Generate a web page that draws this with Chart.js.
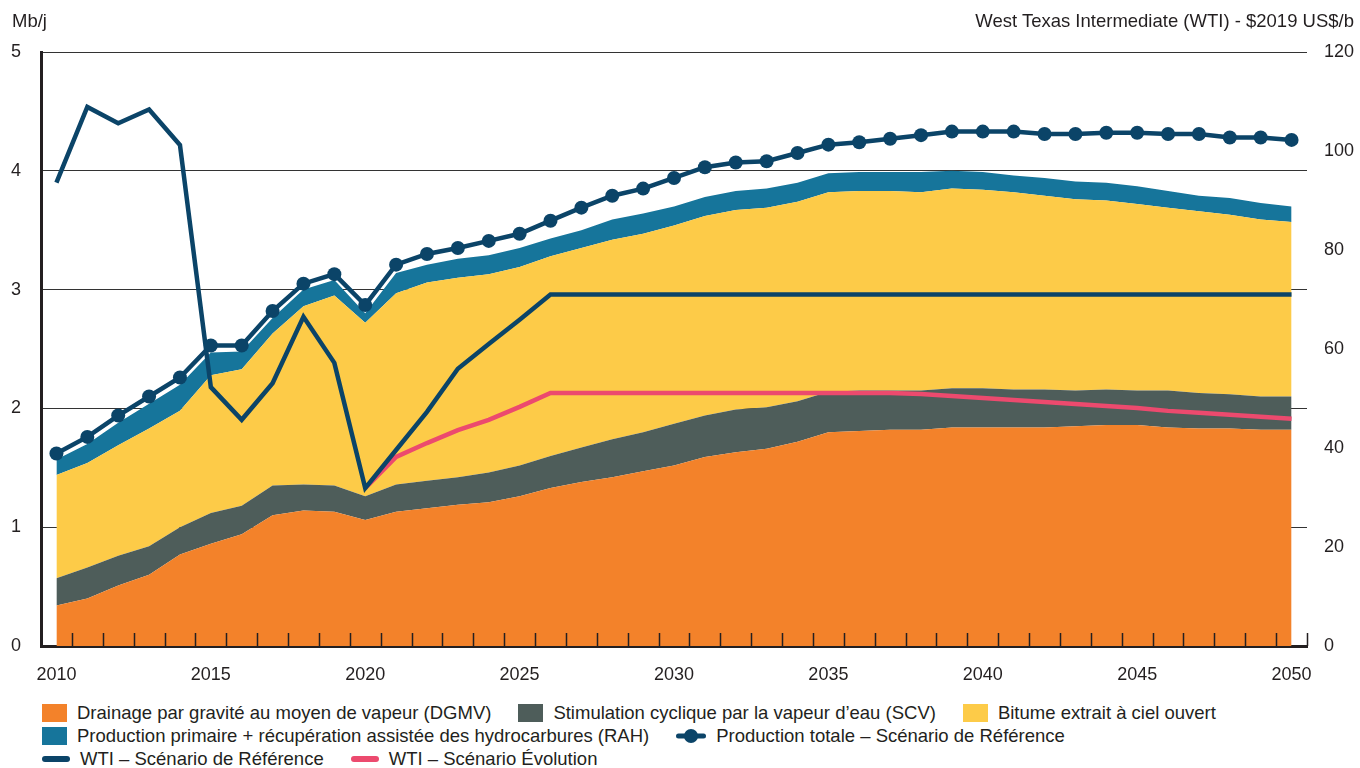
<!DOCTYPE html>
<html lang="fr">
<head>
<meta charset="utf-8">
<title>Production de bitume</title>
<script src="https://cdn.jsdelivr.net/npm/chart.js@4.4.1/dist/chart.umd.min.js"></script>
<style>
  body { margin: 0; background: #fff; font-family: "Liberation Sans", Arial, sans-serif; color: #231f20; }
  #wrap { position: relative; width: 1360px; height: 768px; overflow: hidden; }
  #chartBox { position: absolute; left: 0; top: 0; width: 1360px; height: 700px; }
  .axis-title { position: absolute; top: 10px; font-size: 18.5px; line-height: 22px; white-space: nowrap; }
  #titleLeft { left: 12px; }
  #titleRight { right: 6px; }
  #legend { position: absolute; left: 42px; top: 701px; font-size: 18.5px; }
  .lg-row { display: flex; height: 23px; align-items: center; }
  .lg-item { display: flex; align-items: center; margin-right: 27px; white-space: nowrap; }
  .sw { margin-right: 10px; flex: none; }
  .sw-box { width: 25px; height: 18px; }
  .sw-line { width: 28px; height: 6px; border-radius: 3px; }
</style>
</head>
<body>
<div id="wrap">
  <div id="chartBox"><canvas id="chart"></canvas></div>
  <div class="axis-title" id="titleLeft">Mb/j</div>
  <div class="axis-title" id="titleRight">West Texas Intermediate (WTI) - $2019 US$/b</div>
  <div id="legend"></div>
</div>
<script>
// ================================
// DATA
// ================================
const years = [
  '2010', '2011', '2012', '2013', '2014', '2015', '2016', '2017', '2018', '2019',
  '2020', '2021', '2022', '2023', '2024', '2025', '2026', '2027', '2028', '2029',
  '2030', '2031', '2032', '2033', '2034', '2035', '2036', '2037', '2038', '2039',
  '2040', '2041', '2042', '2043', '2044', '2045', '2046', '2047', '2048', '2049',
  '2050'
];

// Mb/j, stacked
const dgmv = [
  0.34, 0.40, 0.51, 0.60, 0.77, 0.86, 0.94, 1.10, 1.14, 1.13,
  1.06, 1.13, 1.16, 1.19, 1.21, 1.26, 1.33, 1.38, 1.42, 1.47,
  1.52, 1.59, 1.63, 1.66, 1.72, 1.80, 1.81, 1.82, 1.82, 1.84,
  1.84, 1.84, 1.84, 1.85, 1.86, 1.86, 1.84, 1.83, 1.83, 1.82, 1.82
];
const scv = [
  0.23, 0.26, 0.25, 0.24, 0.23, 0.26, 0.24, 0.25, 0.22, 0.22,
  0.20, 0.23, 0.23, 0.23, 0.25, 0.26, 0.27, 0.29, 0.32, 0.33,
  0.35, 0.35, 0.36, 0.35, 0.34, 0.34, 0.34, 0.33, 0.33, 0.33,
  0.33, 0.32, 0.32, 0.30, 0.30, 0.29, 0.31, 0.30, 0.29, 0.28, 0.28
];
const bitume = [
  0.87, 0.88, 0.93, 0.99, 0.98, 1.16, 1.15, 1.28, 1.50, 1.60,
  1.46, 1.61, 1.67, 1.68, 1.67, 1.67, 1.68, 1.68, 1.68, 1.67,
  1.67, 1.68, 1.68, 1.68, 1.68, 1.68, 1.68, 1.68, 1.67, 1.68,
  1.67, 1.66, 1.63, 1.61, 1.59, 1.57, 1.54, 1.53, 1.51, 1.49, 1.47
];
const rah = [
  0.13, 0.16, 0.19, 0.21, 0.22, 0.19, 0.15, 0.13, 0.14, 0.13,
  0.08, 0.17, 0.15, 0.16, 0.16, 0.16, 0.15, 0.15, 0.17, 0.17,
  0.16, 0.16, 0.16, 0.16, 0.16, 0.16, 0.16, 0.16, 0.17, 0.15,
  0.15, 0.14, 0.15, 0.15, 0.15, 0.15, 0.14, 0.13, 0.14, 0.14, 0.13
];
const totalRef = [
  1.62, 1.76, 1.94, 2.10, 2.26, 2.53, 2.53, 2.82, 3.05, 3.13,
  2.87, 3.21, 3.30, 3.35, 3.41, 3.47, 3.58, 3.69, 3.79, 3.85,
  3.94, 4.03, 4.07, 4.08, 4.15, 4.22, 4.24, 4.27, 4.30, 4.33,
  4.33, 4.33, 4.31, 4.31, 4.32, 4.32, 4.31, 4.31, 4.28, 4.28, 4.26
];

// $2019 US$/b
const wtiRef = [
  93.6, 108.9, 105.6, 108.4, 101.2, 52.3, 45.7, 53.1, 66.5, 57.2,
  31.9, 39.6, 47.3, 56.0, 61.0, 65.9, 71.0, 71.0, 71.0, 71.0,
  71.0, 71.0, 71.0, 71.0, 71.0, 71.0, 71.0, 71.0, 71.0, 71.0,
  71.0, 71.0, 71.0, 71.0, 71.0, 71.0, 71.0, 71.0, 71.0, 71.0, 71.0
];
const wtiEvo = [
  null, null, null, null, null, null, null, null, null, null,
  31.9, 38.2, 41.0, 43.6, 45.7, 48.3, 51.1, 51.1, 51.1, 51.1,
  51.1, 51.1, 51.1, 51.1, 51.1, 51.1, 51.1, 51.1, 50.9, 50.5,
  50.1, 49.7, 49.3, 48.9, 48.5, 48.1, 47.5, 47.1, 46.7, 46.3, 45.9
];

const leftTicks = [0, 1, 2, 3, 4, 5];
const rightTicks = [0, 20, 40, 60, 80, 100, 120];

// ================================
// STYLE
// ================================
const COLORS = {
  dgmv: '#f3822a',
  scv: '#4e5d5a',
  bitume: '#fdcb48',
  rah: '#16759b',
  navy: '#0b4468',
  pink: '#ec4a6e',
  ink: '#231f20'
};
const FONT = { family: '"Liberation Sans", Arial, sans-serif', size: 18 };

// ================================
// DATASETS
// ================================
const areaDataset = (label, data, color, fill) => ({
  label,
  data,
  type: 'line',
  stack: 'prod',
  yAxisID: 'y',
  order: 3,
  fill,
  backgroundColor: color,
  borderColor: color,
  borderWidth: 0,
  pointRadius: 0,
  tension: 0
});

const datasets = [
  areaDataset('Drainage par gravité au moyen de vapeur (DGMV)', dgmv, COLORS.dgmv, 'origin'),
  areaDataset('Stimulation cyclique par la vapeur d’eau (SCV)', scv, COLORS.scv, '-1'),
  areaDataset('Bitume extrait à ciel ouvert', bitume, COLORS.bitume, '-1'),
  areaDataset('Production primaire + récupération assistée des hydrocarbures (RAH)', rah, COLORS.rah, '-1'),
  {
    label: 'Production totale – Scénario de Référence',
    data: totalRef,
    stack: 'total',
    yAxisID: 'y',
    order: 0,
    fill: false,
    borderColor: COLORS.navy,
    backgroundColor: COLORS.navy,
    borderWidth: 4.5,
    pointRadius: 7,
    pointBorderWidth: 0,
    pointBackgroundColor: COLORS.navy
  },
  {
    label: 'WTI – Scénario de Référence',
    data: wtiRef,
    yAxisID: 'y1',
    order: 1,
    fill: false,
    borderColor: COLORS.navy,
    backgroundColor: COLORS.navy,
    borderWidth: 4.5,
    pointRadius: 0
  },
  {
    label: 'WTI – Scénario Évolution',
    data: wtiEvo,
    yAxisID: 'y1',
    order: 2,
    fill: false,
    borderColor: COLORS.pink,
    backgroundColor: COLORS.pink,
    borderWidth: 4.5,
    pointRadius: 0
  }
];

// ================================
// PLUGINS
// ================================
// small year ticks drawn upward from the x axis, on category boundaries
const innerTicks = {
  id: 'innerTicks',
  afterDraw(chart) {
    const { ctx, chartArea, scales: { x } } = chart;
    ctx.save();
    ctx.strokeStyle = COLORS.ink;
    ctx.lineWidth = 1.5;
    ctx.beginPath();
    for (let i = 0; i <= years.length; i++) {
      const px = Math.round(x.getPixelForValue(i - 0.5)) + 0.5;
      ctx.moveTo(px, chartArea.bottom);
      ctx.lineTo(px, chartArea.bottom - 13);
    }
    ctx.stroke();
    ctx.restore();
  }
};

// ================================
// CHART
// ================================
Chart.defaults.font.family = FONT.family;
Chart.defaults.color = COLORS.ink;

new Chart(document.getElementById('chart'), {
  type: 'line',
  data: { labels: years, datasets },
  options: {
    responsive: true,
    maintainAspectRatio: false,
    animation: false,
    layout: { padding: { top: 52, left: 0, right: 0, bottom: 0 } },
    plugins: {
      legend: { display: false },
      tooltip: { enabled: false }
    },
    scales: {
      x: {
        offset: true,
        z: 1,
        grid: { display: false, drawTicks: false },
        border: { display: true, width: 3, color: COLORS.ink },
        ticks: {
          font: FONT,
          padding: 18,
          autoSkip: false,
          maxRotation: 0,
          callback: (v, i) => (i % 5 === 0 ? years[i] : '')
        },
        afterFit: (scale) => { scale.height = 54; }
      },
      y: {
        position: 'left',
        stacked: true,
        min: 0,
        max: 5,
        z: 1,
        afterBuildTicks: (scale) => { scale.ticks = leftTicks.map(value => ({ value })); },
        grid: { color: '#333', lineWidth: 1, drawTicks: false },
        border: { display: true, width: 3, color: COLORS.ink },
        ticks: { font: FONT, padding: 20 },
        afterFit: (scale) => { scale.width = 41; }
      },
      y1: {
        position: 'right',
        min: 0,
        max: 120,
        afterBuildTicks: (scale) => { scale.ticks = rightTicks.map(value => ({ value })); },
        grid: { display: false, drawTicks: false },
        border: { display: false },
        ticks: { font: FONT, padding: 17 },
        afterFit: (scale) => { scale.width = 53; }
      }
    }
  },
  plugins: [innerTicks]
});

// ================================
// LEGEND
// ================================
const legendRows = [[0, 1, 2], [3, 4], [5, 6]];
const swatchKind = ['box', 'box', 'box', 'box', 'dot', 'line', 'line'];

function renderLegendItem(i) {
  const ds = datasets[i];
  const color = ds.borderColor;
  let sw;
  if (swatchKind[i] === 'box') {
    sw = `<span class="sw sw-box" style="background:${color}"></span>`;
  } else if (swatchKind[i] === 'line') {
    sw = `<span class="sw sw-line" style="background:${color}"></span>`;
  } else {
    sw = `<svg class="sw" width="30" height="16" viewBox="0 0 30 16">
      <line x1="2.5" y1="8" x2="27.5" y2="8" stroke="${color}" stroke-width="5" stroke-linecap="round"/>
      <circle cx="15" cy="8" r="7" fill="${color}"/></svg>`;
  }
  return `<span class="lg-item">${sw}<span>${ds.label}</span></span>`;
}

document.getElementById('legend').innerHTML = legendRows
  .map(row => `<div class="lg-row">${row.map(renderLegendItem).join('')}</div>`)
  .join('');
</script>
</body>
</html>
